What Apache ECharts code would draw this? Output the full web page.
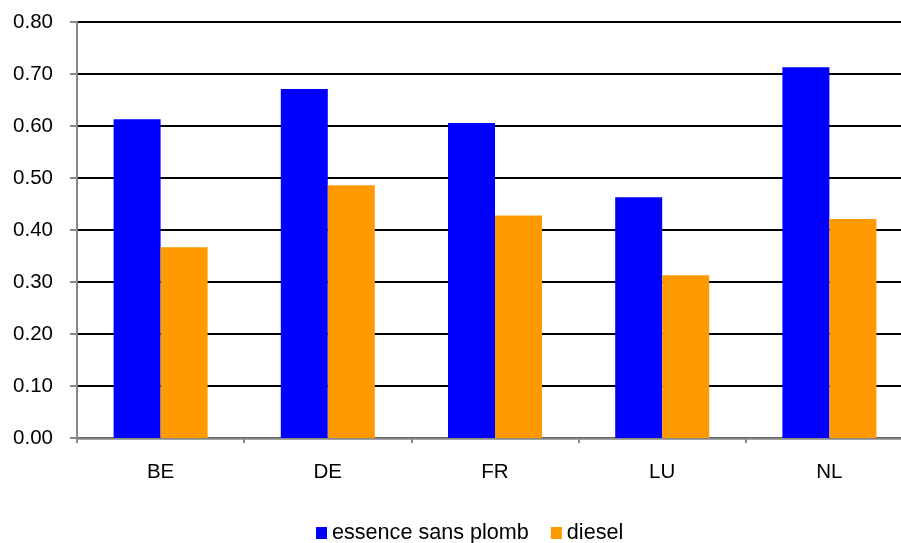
<!DOCTYPE html>
<html>
<head>
<meta charset="utf-8">
<script src="https://cdn.jsdelivr.net/npm/echarts@6/dist/echarts.min.js"></script>
<style>
  html, body { margin: 0; padding: 0; background: #ffffff; }
  #chart { width: 901px; height: 543px; }
</style>
</head>
<body>
<div id="chart"></div>
<script>
// Country codes along the category axis
const countries = ['BE', 'DE', 'FR', 'LU', 'NL'];
// Fuel prices per country
const essenceSansPlomb = [0.613, 0.671, 0.606, 0.463, 0.713];
const diesel = [0.367, 0.486, 0.428, 0.313, 0.421];
const seriesNames = ['essence sans plomb', 'diesel'];

const chart = echarts.init(document.getElementById('chart'), null, { renderer: 'canvas' });

const font = 'Liberation Sans, Arial, sans-serif';

chart.setOption({
  animation: false,
  backgroundColor: '#ffffff',
  // plot area runs slightly past the right edge of the canvas
  grid: { left: 77, width: 836, top: 22, bottom: 105, containLabel: false, outerBoundsMode: 'none' },
  legend: {
    data: seriesNames,
    left: 316,
    top: 522,
    padding: 0,
    itemWidth: 11,
    itemHeight: 12,
    itemGap: 22,
    icon: 'rect',
    textStyle: { fontFamily: font, fontSize: 21.6, color: '#000', lineHeight: 22 }
  },
  xAxis: {
    type: 'category',
    data: countries,
    boundaryGap: true,
    axisLine: { lineStyle: { color: '#888888', width: 2.5 } },
    axisTick: { show: true, alignWithLabel: false, length: 5, lineStyle: { color: '#888888', width: 2 } },
    axisLabel: { fontFamily: font, fontSize: 20.5, color: '#000', margin: 24 },
    splitLine: { show: false }
  },
  yAxis: {
    type: 'value',
    min: 0,
    max: 0.8,
    interval: 0.1,
    axisLine: { show: true, lineStyle: { color: '#888888', width: 2 } },
    axisTick: { show: true, length: 7, lineStyle: { color: '#888888', width: 2 } },
    axisLabel: {
      fontFamily: font, fontSize: 20.5, color: '#000', margin: 24,
      formatter: v => v.toFixed(2)
    },
    splitLine: { show: true, lineStyle: { color: '#000000', width: 2 } }
  },
  series: [
    {
      name: seriesNames[0],
      type: 'bar',
      data: essenceSansPlomb,
      barWidth: 47,
      barGap: '0%',
      itemStyle: { color: '#0000FF' }
    },
    {
      name: seriesNames[1],
      type: 'bar',
      data: diesel,
      barWidth: 47,
      barGap: '0%',
      itemStyle: { color: '#FF9900' }
    }
  ]
});
</script>
</body>
</html>
